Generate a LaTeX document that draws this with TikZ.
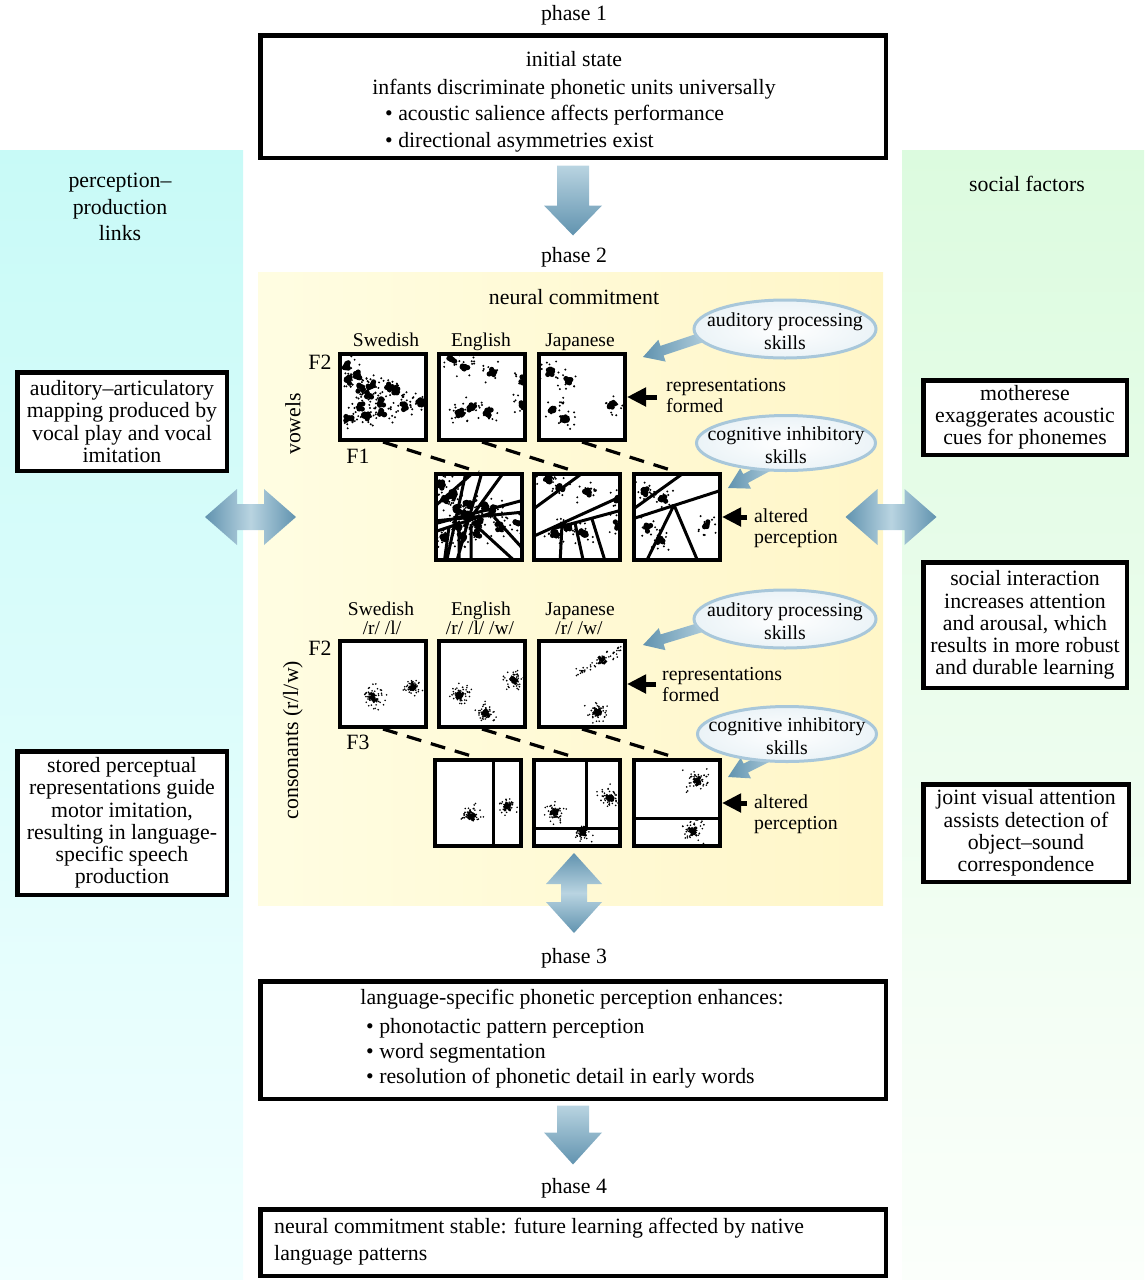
\documentclass[tikz,border=0pt]{standalone}
\usepackage{fontspec}
\setmainfont{Liberation Serif}
\usetikzlibrary{calc,arrows.meta,shapes.geometric}

\definecolor{cyantop}{HTML}{C8FAF7}
\definecolor{cyanbot}{HTML}{F1FFFF}
\definecolor{greentop}{HTML}{DCFBDF}
\definecolor{greenbot}{HTML}{FBFFFB}
\definecolor{yelleft}{HTML}{FFFDE2}
\definecolor{yelright}{HTML}{FFF6C8}
\definecolor{arrdark}{HTML}{6193AF}
\definecolor{arrlight}{HTML}{B9D4E1}
\definecolor{ellline}{HTML}{A8C7DA}
\definecolor{ellout}{HTML}{EBF3F7}

\newcommand\bigfont{\fontsize{21.8}{22.2}\selectfont}
\newcommand\midfont{\fontsize{19.8}{21}\selectfont}
\newcommand\lblfont{\fontsize{19.5}{20}\selectfont}

\tikzset{
  txt/.style={inner sep=0pt, font=\bigfont},
  basetxt/.style={txt, anchor=base},
  basewest/.style={txt, anchor=base west},
  lbl/.style={inner sep=0pt, anchor=base, font=\lblfont},
  frame/.style={draw, line width=4.5pt, inner sep=0pt, fill=white},
  sidebox/.style={frame, align=center, font=\bigfont},
  pbox/.style={draw, line width=4pt, minimum width=86pt, minimum height=86pt, inner sep=0pt},
  pline/.style={line width=3pt},
  dashline/.style={line width=3.2pt, dash pattern=on 15pt off 10pt},
  blkarrow/.style={line width=5pt, -{Triangle[length=19pt,width=18pt]}},
  ell/.style={ellipse, draw=ellline, line width=3pt, inner color=white, outer color=ellout,
    minimum width=179pt, minimum height=55pt, inner sep=0pt},
  elltxt/.style={inner sep=0pt, align=center, font=\fontsize{19.8}{23}\selectfont},
}

% one vowel category: a dark blob with a few stray tokens
\newcommand\vcl[2]{%
  \foreach \k in {1,...,8}{\fill ({#1+3.2*rand},{#2+3.2*rand}) circle (2.6pt);}
  \foreach \k in {1,...,12}{\fill ({#1+10.5*rand},{#2+10.5*rand}) circle (1.1pt);}}
% one consonant category: dense core and a cloud of tokens
\newcommand\ccl[3]{%
  \foreach \k in {1,...,20}{\fill ({#1+2*(rand+rand)},{#2+2*(rand+rand)}) circle (1.8pt);}
  \foreach \k in {1,...,50}{\fill ({#1+#3*(rand+rand+rand)/1.5},{#2+#3*(rand+rand+rand)/1.5}) circle (0.9pt);}}

\newcommand\swedV{\foreach \a/\b in {8/13,11/28,19/23,23/36,33/33,31/43,51/35,59/38,23/55,44/50,66/55,83/51,11/66,28/65,44/61}{\vcl{\a}{\b}}}
\newcommand\engV{\foreach \a/\b in {15/8,28/15,55/20,86/28,23/61,35/55,51/61,86/53}{\vcl{\a}{\b}}}
\newcommand\japV{\foreach \a/\b in {13/20,31/28,16/56,28/68,75/53}{\vcl{\a}{\b}}}

% scatter panel: name, left, top, contents
\newcommand\scpanel[4]{%
  \fill[white] (#2,#3) rectangle ++(90,90);
  \begin{scope}
    \clip (#2+4,#3+4) rectangle ++(82,82);
    \begin{scope}[shift={(#2,#3)}]#4\end{scope}
  \end{scope}
  \node[pbox] (#1) at (#2+45,#3+45) {};}

% broad blue arrows
\newcommand\dnarrow[3]{%
  \shade[top color=arrlight, bottom color=arrdark] (#1) ++(-16,0) -- ++(32,0) -- ++(0,#2)
    -- ++(13,0) -- ++(-29,#3) -- ++(-29,-#3) -- ++(13,0) -- cycle;}
\newcommand\hdbl[1]{%
  \shade[left color=arrdark, right color=arrdark, middle color=arrlight] (#1) ++(-45.5,0)
    -- ++(32,-28) -- ++(0,15) -- ++(27,0) -- ++(0,-15) -- ++(32,28) -- ++(-32,28)
    -- ++(0,-15) -- ++(-27,0) -- ++(0,15) -- cycle;}
\newcommand\vdbl[1]{%
  \shade[top color=arrdark, bottom color=arrdark, middle color=arrlight] (#1) ++(0,-40)
    -- ++(28,31) -- ++(-15,0) -- ++(0,18) -- ++(15,0) -- ++(-28,31) -- ++(-28,-31)
    -- ++(15,0) -- ++(0,-18) -- ++(-15,0) -- cycle;}
\newcommand\fatarrow[2]{%
  \coordinate (fabase) at ($(#2)!20pt!(#1)$);
  \shade[left color=arrdark, right color=arrlight]
    ($(#1)!5pt!90:(#2)$) -- ($(fabase)!5pt!90:(#2)$) -- ($(fabase)!11.5pt!90:(#2)$) -- (#2)
    -- ($(fabase)!11.5pt!-90:(#2)$) -- ($(fabase)!5pt!-90:(#2)$) -- ($(#1)!5pt!-90:(#2)$) -- cycle;}

\begin{document}
\begin{tikzpicture}[x=1pt, y=-1pt]
\pgfmathsetseed{7}
\useasboundingbox (0,0) rectangle (1144,1280);

% background columns
\node[minimum width=243pt, minimum height=1130pt, inner sep=0pt, top color=cyantop, bottom color=cyanbot] (leftp) at (121.5,715) {};
\node[minimum width=242pt, minimum height=1130pt, inner sep=0pt, top color=greentop, bottom color=greenbot] (rightp) at (1023,715) {};
\node[minimum width=625pt, minimum height=633pt, inner sep=0pt, left color=yelleft, right color=yelright] (yel) at (570.5,588.5) {};

\node[txt, align=center, font=\fontsize{21.8}{26.5}\selectfont] (ltitle) at (120,207) {perception–\\production\\links};
\node[basetxt] (rtitle) at (1027,191) {social factors};

% phase 1
\node[basetxt] (ph1) at (574,20) {phase 1};
\node[frame, minimum width=625.5pt, minimum height=122.5pt] (p1) at (573,96.5) {};
\node[basetxt] (p1a) at (574,66) {initial state};
\node[basetxt] (p1b) at (574,94) {infants discriminate phonetic units universally};
\node[basewest] (p1c) at (385,120) {\textbullet\ acoustic salience affects performance};
\node[basewest] (p1d) at (385,147) {\textbullet\ directional asymmetries exist};
\coordinate (a1) at ($(p1.south)+(0,5.5)$);
\dnarrow{a1}{40}{30}

% phase 2
\node[basetxt] (ph2) at (574,262) {phase 2};
\node[basetxt] (nc) at (574,304) {neural commitment};

% vowels
\node[lbl] (lv1) at (386,346) {Swedish};
\node[lbl] (lv2) at (481,346) {English};
\node[lbl] (lv3) at (580,346) {Japanese};
\node[basetxt] (vf2) at (320,369) {F2};
\node[basetxt] (vf1) at (358,463) {F1};
\node[txt, rotate=90] (vow) at (293,424) {vowels};

\scpanel{v1}{338}{352}{\swedV}
\scpanel{v2}{437}{352}{\engV}
\scpanel{v3}{537}{352}{\japV}

\scpanel{w1}{434}{472}{\swedV
  \draw[pline] (0,52)--(90,28) (0,49)--(90,40) (0,60)--(60,40) (12,92)--(32,0) (22,92)--(48,0)
    (30,55)--(70,0) (0,35)--(40,0) (25,52)--(25,92) (37,52)--(37,92) (38,50)--(84,92)
    (60,45)--(90,78) (15,55)--(10,92);}
\scpanel{w2}{532}{472}{\engV
  \draw[pline] (0,38)--(52,0) (0,65)--(90,24) (20,57)--(90,38) (30,53)--(28,92)
    (43,51)--(52,92) (60,47)--(74,92);}
\scpanel{w3}{632}{472}{\japV
  \draw[pline] (0,38)--(53,0) (0,47)--(90,18) (42,33)--(13,92) (42,33)--(67,92);}

\draw[dashline] (v1.south) -- (w1.north);
\draw[dashline] (v2.south) -- (w2.north);
\draw[dashline] (v3.south) -- (w3.north);

% consonants
\node[lbl] (lc1) at (381,615) {Swedish};
\node[lbl] (lc2) at (481,615) {English};
\node[lbl] (lc3) at (580,615) {Japanese};
\node[lbl] (lc1b) at (382,634) {/r/ /l/};
\node[lbl] (lc2b) at (480,634) {/r/ /l/ /w/};
\node[lbl] (lc3b) at (579,634) {/r/ /w/};
\node[basetxt] (cf2) at (320,655) {F2};
\node[basetxt] (cf3) at (358,749) {F3};
\node[txt, rotate=90] (cons) at (293,740) {consonants (r/l/w)};

\scpanel{c1}{338}{639}{\ccl{35}{58}{8}\ccl{75}{48}{6}}
\scpanel{c2}{437}{639}{\ccl{23}{56}{8}\ccl{49}{74}{7}\ccl{76}{41}{7}}
\scpanel{c3}{537}{639}{%
  \foreach \k in {1,...,16}{\fill ({65+2*(rand+rand)},{21+2*(rand+rand)}) circle (1.8pt);}
  \foreach \k in {1,...,50}{\pgfmathsetmacro\t{rand}\fill ({65+26*\t+4*rand},{21-14*\t+4*rand}) circle (0.9pt);}
  \ccl{60}{73}{7}}

\scpanel{d1}{433}{758}{\ccl{38}{58}{7}\ccl{74}{48}{6}
  \draw[pline] (60,0)--(60,90);}
\scpanel{d2}{532}{758}{\ccl{23}{54}{7}\ccl{78}{39}{7}\ccl{51}{74}{6}
  \draw[pline] (54,0)--(54,70) (0,70)--(90,70);}
\scpanel{d3}{632}{758}{\ccl{65}{23}{8}\ccl{61}{73}{7}
  \draw[pline] (0,60)--(90,60);}

\draw[dashline] (c1.south) -- (d1.north);
\draw[dashline] (c2.south) -- (d2.north);
\draw[dashline] (c3.south) -- (d3.north);

% skills feeding the two stages
\coordinate (s1) at (712,334);  \coordinate (t1) at (643,357);
\coordinate (s2) at (780,460);  \coordinate (t2) at (728,488);
\coordinate (s3) at (712,624);  \coordinate (t3) at (643,645);
\coordinate (s4) at (782,750);  \coordinate (t4) at (728,777);
\fatarrow{s1}{t1}
\fatarrow{s2}{t2}
\fatarrow{s3}{t3}
\fatarrow{s4}{t4}

\node[ell, minimum width=182pt, minimum height=58pt] (e1) at (785,329) {};
\node[elltxt] (e1t) at (785,331) {auditory processing\\skills};
\node[ell] (e2) at (786,443) {};
\node[elltxt] (e2t) at (786,445) {cognitive inhibitory\\skills};
\node[ell, minimum width=182pt, minimum height=58pt] (e3) at (785,619) {};
\node[elltxt] (e3t) at (785,621) {auditory processing\\skills};
\node[ell] (e4) at (787,734) {};
\node[elltxt] (e4t) at (787,736) {cognitive inhibitory\\skills};

\node[inner sep=0pt, anchor=west, align=left, font=\midfont] (repv) at (666,396) {representations\\formed};
\node[inner sep=0pt, anchor=west, align=left, font=\midfont] (altv) at (754,528) {altered\\perception};
\node[inner sep=0pt, anchor=west, align=left, font=\midfont] (repc) at (662,685) {representations\\formed};
\node[inner sep=0pt, anchor=west, align=left, font=\midfont] (altc) at (754,814) {altered\\perception};
\draw[blkarrow] ($(repv.west |- v3.east)+(-9,0)$) -- (v3.east);
\draw[blkarrow] ($(altv.west |- w3.east)+(-7,0)$) -- (w3.east);
\draw[blkarrow] ($(repc.west |- c3.east)+(-6,0)$) -- (c3.east);
\draw[blkarrow] ($(altc.west |- d3.east)+(-7,0)$) -- (d3.east);

% side boxes
\node[sidebox, minimum width=209.5pt, minimum height=98.5pt] (l1) at (122,421.5)
  {auditory–articulatory\\mapping produced by\\vocal play and vocal\\imitation};
\node[sidebox, minimum width=209.5pt, minimum height=143.5pt] (l2) at (122,823)
  {stored perceptual\\representations guide\\motor imitation,\\resulting in language-\\specific speech\\production};
\node[sidebox, minimum width=203.5pt, minimum height=74.5pt] (r1) at (1025,417.5)
  {motherese\\exaggerates acoustic\\cues for phonemes};
\node[sidebox, minimum width=203.5pt, minimum height=125.5pt] (r2) at (1025,625)
  {social interaction\\increases attention\\and arousal, which\\results in more robust\\and durable learning};
\node[sidebox, minimum width=205.5pt, minimum height=97.5pt] (r3) at (1026,833)
  {joint visual attention\\assists detection of\\object–sound\\correspondence};

% links between the columns and the phases
\coordinate (hl) at (250.5,517);
\coordinate (hr) at (891,517);
\coordinate (vd) at (574,893);
\hdbl{hl}
\hdbl{hr}
\vdbl{vd}

% phase 3
\node[basetxt] (ph3) at (574,963) {phase 3};
\node[frame, minimum width=625.5pt, minimum height=117.5pt] (p3) at (573,1040) {};
\node[basetxt] (p3a) at (572,1004) {language-specific phonetic perception enhances:};
\node[basewest] (p3b) at (366,1033) {\textbullet\ phonotactic pattern perception};
\node[basewest] (p3c) at (366,1058) {\textbullet\ word segmentation};
\node[basewest] (p3d) at (366,1083) {\textbullet\ resolution of phonetic detail in early words};
\coordinate (a2) at ($(p3.south)+(0,4.5)$);
\dnarrow{a2}{27}{32}

% phase 4
\node[basetxt] (ph4) at (574,1193) {phase 4};
\node[frame, minimum width=625.5pt, minimum height=66.5pt] (p4) at (573,1242.5) {};
\node[txt, anchor=west, align=left, font=\fontsize{21.8}{27}\selectfont] (p4a) at (274,1241.5)
  {neural commitment stable: future learning affected by native\\language patterns};
\end{tikzpicture}
\end{document}
